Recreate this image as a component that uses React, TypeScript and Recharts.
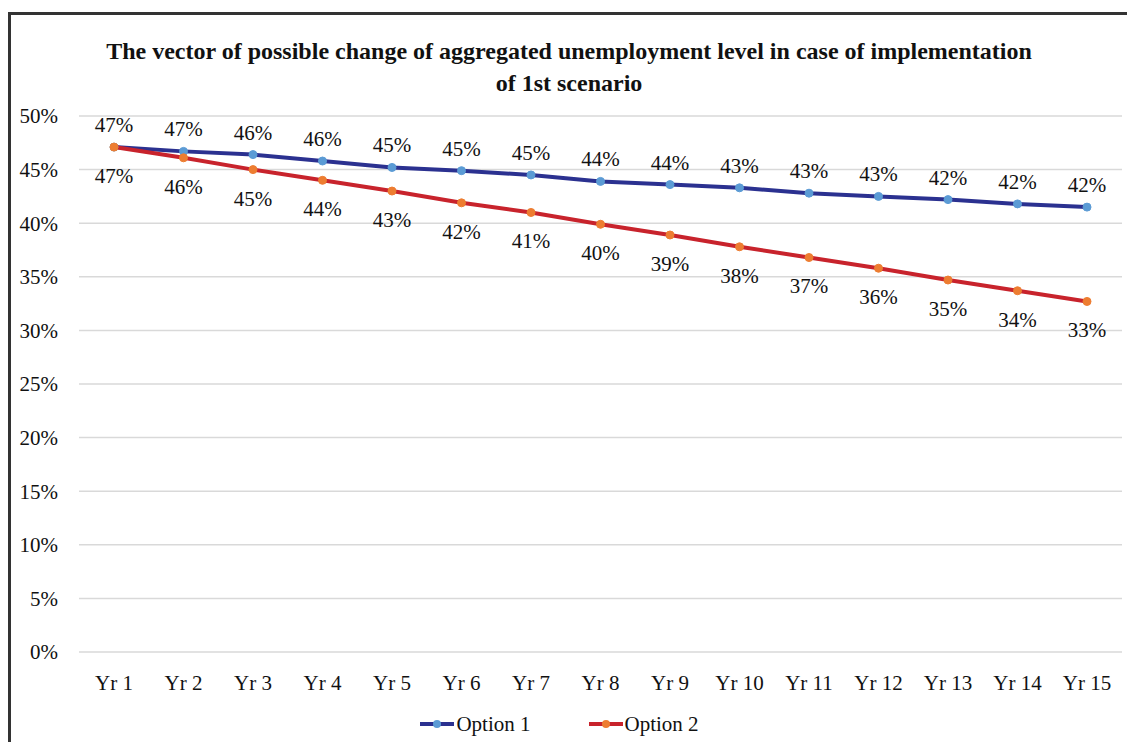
import React from 'react'
import { LineChart, Line, XAxis, YAxis, CartesianGrid, Legend, LabelList } from 'recharts'

const years = ['Yr 1', 'Yr 2', 'Yr 3', 'Yr 4', 'Yr 5', 'Yr 6', 'Yr 7', 'Yr 8', 'Yr 9', 'Yr 10', 'Yr 11', 'Yr 12', 'Yr 13', 'Yr 14', 'Yr 15']
const option1 = [47.1, 46.7, 46.4, 45.8, 45.2, 44.9, 44.5, 43.9, 43.6, 43.3, 42.8, 42.5, 42.2, 41.8, 41.5]
const option2 = [47.1, 46.1, 45.0, 44.0, 43.0, 41.9, 41.0, 39.9, 38.9, 37.8, 36.8, 35.8, 34.7, 33.7, 32.7]
const yTicks = [0, 5, 10, 15, 20, 25, 30, 35, 40, 45, 50]

const data = years.map((name, i) => ({ name, opt1: option1[i], opt2: option2[i] }))

const FONT = '"Liberation Serif", "DejaVu Serif", serif'

const series = [
  { name: 'Option 1', line: '#2B3190', dot: '#5B9BD5' },
  { name: 'Option 2', line: '#C8232C', dot: '#ED7D31' },
]

function LegendBox() {
  return (
    <div style={{ height: 36, display: 'flex', justifyContent: 'center', alignItems: 'center', gap: 58, paddingRight: 14, fontFamily: FONT, fontSize: 21, color: '#111' }}>
      {series.map((s) => (
        <div key={s.name} style={{ display: 'flex', alignItems: 'center' }}>
          <svg width={34} height={12} style={{ marginRight: 2 }}>
            <line x1={0} y1={6} x2={34} y2={6} stroke={s.line} strokeWidth={4} />
            <circle cx={17} cy={6} r={4} fill={s.dot} />
          </svg>
          <span>{s.name}</span>
        </div>
      ))}
    </div>
  )
}

const labelStyle = { fill: '#111', fontSize: 21, fontFamily: FONT }

export default function App() {
  return (
    <div
      style={{
        position: 'absolute',
        left: 8,
        top: 12,
        width: 1119,
        height: 730,
        boxSizing: 'border-box',
        borderLeft: '3px solid #333',
        borderTop: '3px solid #333',
        background: '#fff',
        fontFamily: FONT,
        overflow: 'hidden',
      }}
    >
      <div style={{ position: 'absolute', top: 20, left: 0, right: 0, textAlign: 'center', fontWeight: 'bold', fontSize: 24, lineHeight: '32px', color: '#111', zIndex: 2 }}>
        The vector of possible change of aggregated unemployment level in case of implementation
        <br />
        of 1st scenario
      </div>
      <LineChart width={1116} height={727} data={data} margin={{ top: 101, right: 5, left: 0, bottom: 0 }} style={{ fontFamily: FONT }}>
        <CartesianGrid vertical={false} stroke="#d9d9d9" strokeWidth={1.5} />
        <XAxis
          dataKey="name"
          axisLine={false}
          tickLine={false}
          height={54}
          tickMargin={17}
          padding={{ left: 35, right: 35 }}
          tick={labelStyle}
        />
        <YAxis
          domain={[0, 50]}
          ticks={yTicks}
          width={68}
          axisLine={false}
          tickLine={false}
          tickMargin={15}
          tickFormatter={(v: number) => `${v}%`}
          tick={labelStyle}
        />
        <Legend verticalAlign="bottom" content={() => <LegendBox />} />
        <Line
          type="linear"
          dataKey="opt1"
          name="Option 1"
          stroke={series[0].line}
          strokeWidth={4}
          dot={{ r: 4, fill: series[0].dot, stroke: series[0].dot, strokeWidth: 1 }}
          isAnimationActive={false}
        >
          <LabelList
            dataKey="opt1"
            position="top"
            offset={15}
            formatter={(v: number) => `${Math.round(v)}%`}
            fill="#111"
            fontSize={21}
            fontFamily={FONT}
          />
        </Line>
        <Line
          type="linear"
          dataKey="opt2"
          name="Option 2"
          stroke={series[1].line}
          strokeWidth={4}
          dot={{ r: 4, fill: series[1].dot, stroke: series[1].dot, strokeWidth: 1 }}
          isAnimationActive={false}
        >
          <LabelList
            dataKey="opt2"
            position="bottom"
            offset={21}
            formatter={(v: number) => `${Math.round(v)}%`}
            fill="#111"
            fontSize={21}
            fontFamily={FONT}
          />
        </Line>
      </LineChart>
    </div>
  )
}
